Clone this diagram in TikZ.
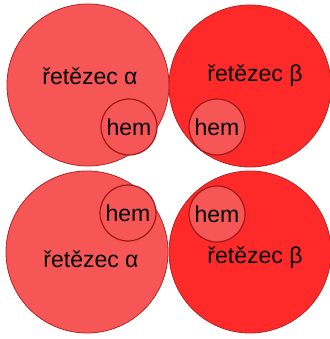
\documentclass[tikz,border=0pt]{standalone}
\usepackage{fontspec}
\setmainfont{Liberation Sans}
\definecolor{alphared}{HTML}{F65656}
\definecolor{betared}{HTML}{FE2A2A}
\definecolor{rimred}{HTML}{B82222}
\definecolor{hemrim}{HTML}{A01818}
\begin{document}
\begin{tikzpicture}[x=1pt,y=-1pt,
  chain/.style={circle, draw=rimred, line width=0.8pt, minimum size=162pt, inner sep=0pt},
  achain/.style={chain, fill=alphared},
  bchain/.style={chain, fill=betared},
  heme/.style={circle, draw=hemrim, line width=1.2pt, fill=alphared, minimum size=56pt, inner sep=0pt, font=\fontsize{23}{26}\selectfont},
  lbl/.style={font=\fontsize{23}{26}\selectfont, inner sep=0pt}]
\useasboundingbox (0,0) rectangle (329,339);
% four globin chains
\node[achain] (a1) at (88,85) {};
\node[bchain] (b1) at (250,86) {};
\node[achain] (a2) at (87,252) {};
\node[bchain] (b2) at (250,252) {};
% chain labels
\node[lbl] (ta1) at (90,76) {řetězec α};
\node[lbl] (tb1) at (255,76) {řetězec β};
\node[lbl] (ta2) at (91,259) {řetězec α};
\node[lbl] (tb2) at (255,258) {řetězec β};
% heme groups
\node[heme] (h1) at (129,127) {hem};
\node[heme] (h2) at (217,127) {hem};
\node[heme] (h3) at (128,213) {hem};
\node[heme] (h4) at (217,214) {hem};
\end{tikzpicture}
\end{document}
